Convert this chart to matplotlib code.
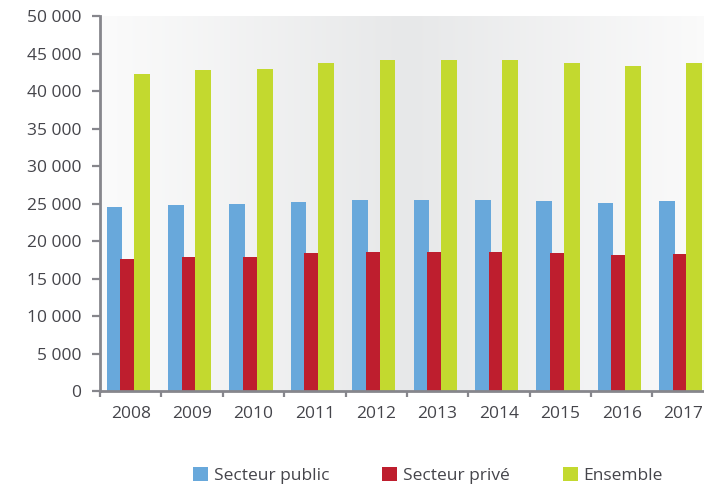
import numpy as np
import matplotlib
matplotlib.use("Agg")
import matplotlib.pyplot as plt
from matplotlib.ticker import FuncFormatter, MultipleLocator
from matplotlib.colors import LinearSegmentedColormap

years = ["2008", "2009", "2010", "2011", "2012", "2013", "2014", "2015", "2016", "2017"]
public = [24600, 24800, 25000, 25250, 25500, 25500, 25500, 25300, 25100, 25400]
prive = [17550, 17900, 17900, 18400, 18600, 18600, 18600, 18400, 18200, 18250]
ensemble = [42300, 42800, 42950, 43700, 44200, 44200, 44200, 43800, 43400, 43700]

series_names = ["Secteur public", "Secteur privé", "Ensemble"]
colors = ["#68a8db", "#be1e2e", "#c3d92f"]
# offsets / widths in category units
offsets = [-0.264, -0.058, 0.184]
widths = [0.254, 0.223, 0.26]

plt.rcParams['font.family'] = ['Open Sans', 'DejaVu Sans']
txt_color = "#45454b"
axis_color = "#86868c"

fig = plt.figure(figsize=(7.04, 4.87), dpi=100)
ax = fig.add_axes([0.142, 0.197, 0.872, 0.770])

# fond en dégradé horizontal
grad_cmap = LinearSegmentedColormap.from_list("bg", ["#fbfbfb", "#e7e8e9", "#fbfbfb"])
grad = np.linspace(0, 1, 256).reshape(1, -1)
ax.imshow(grad, cmap=grad_cmap, aspect="auto", extent=[0, 1, 0, 1],
          transform=ax.transAxes, zorder=0)

x = np.arange(len(years))
for i, vals in enumerate([public, prive, ensemble]):
    ax.bar(x + offsets[i], vals, width=widths[i], color=colors[i],
           label=series_names[i], zorder=2 + i, edgecolor="none")

ax.set_xlim(-0.5, len(years) - 0.5)
ax.set_ylim(0, 50000)

ax.yaxis.set_major_locator(MultipleLocator(5000))
ax.yaxis.set_major_formatter(FuncFormatter(lambda v, p: f"{int(v):,}".replace(",", " ")))

ax.set_xticks(x)
ax.set_xticklabels(years)
ax.set_xticks(np.arange(-0.5, len(years), 1.0), minor=True)

for s in ["top", "right"]:
    ax.spines[s].set_visible(False)
for s in ["left", "bottom"]:
    ax.spines[s].set_color(axis_color)
    ax.spines[s].set_linewidth(2)
    ax.spines[s].set_zorder(10)

ax.tick_params(axis="y", length=5.5, width=1.6, color=axis_color, labelsize=12.5,
               labelcolor=txt_color, pad=8)
ax.tick_params(axis="x", which="major", length=0, labelsize=12.5,
               labelcolor=txt_color, pad=11)
ax.tick_params(axis="x", which="minor", length=4.5, width=1.6, color=axis_color)

fig.legend(loc="center", bbox_to_anchor=(0.608, 0.024), ncol=3, frameon=False,
           fontsize=12.5, labelcolor=txt_color, handlelength=0.85, handleheight=0.85,
           handletextpad=0.35, columnspacing=3.05)

fig.savefig("out.png", dpi=100)
